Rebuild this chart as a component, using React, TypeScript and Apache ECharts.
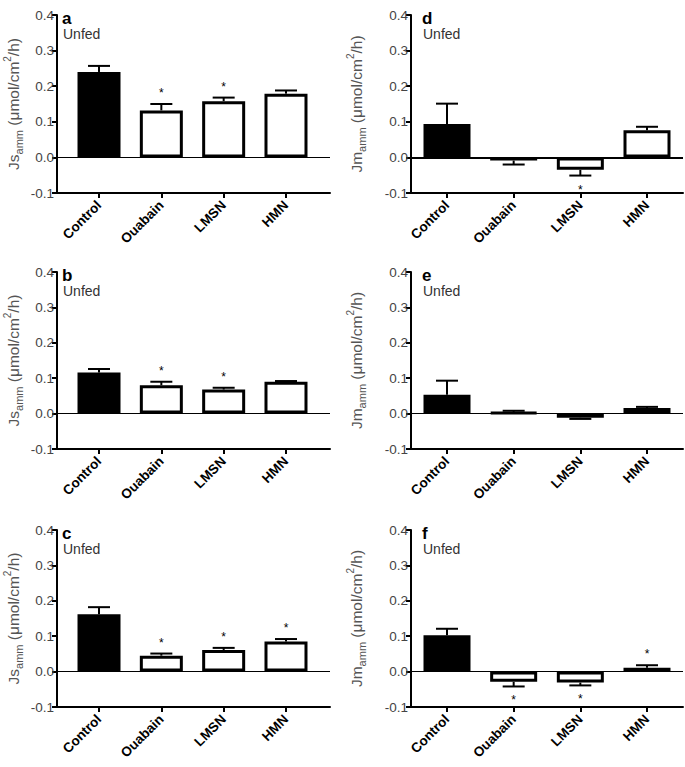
import React, { useEffect, useRef } from "react";
import * as echarts from "echarts";

const categories = ["Control", "Ouabain", "LMSN", "HMN"];
const yTicks = [-0.1, 0.0, 0.1, 0.2, 0.3, 0.4];

// panel a (Js)
const aMean = [0.240, 0.132, 0.158, 0.179];
const aErr = [0.017, 0.018, 0.010, 0.009];
const aSig = [0, 1, 1, 0];
// panel b (Js)
const bMean = [0.116, 0.080, 0.068, 0.090];
const bErr = [0.010, 0.010, 0.005, 0.002];
const bSig = [0, 1, 1, 0];
// panel c (Js)
const cMean = [0.162, 0.045, 0.061, 0.085];
const cErr = [0.020, 0.006, 0.006, 0.007];
const cSig = [0, 1, 1, 1];
// panel d (Jm)
const dMean = [0.094, -0.009, -0.035, 0.076];
const dErr = [0.057, 0.011, 0.016, 0.010];
const dSig = [0, 0, 1, 0];
// panel e (Jm)
const eMean = [0.053, 0.003, -0.012, 0.016];
const eErr = [0.040, 0.005, 0.003, 0.003];
const eSig = [0, 0, 0, 0];
// panel f (Jm)
const fMean = [0.103, -0.029, -0.031, 0.011];
const fErr = [0.018, 0.013, 0.008, 0.007];
const fSig = [0, 1, 1, 1];

const panelLetters = ["a", "b", "c", "d", "e", "f"];
const panelSubtitle = "Unfed";

const FONT = "'Liberation Sans', Arial, Helvetica, sans-serif";

export default function App() {
  const ref = useRef<HTMLDivElement>(null);

  useEffect(() => {
    document.body.style.margin = "0";
    if (!ref.current) return;
    const chart = echarts.init(ref.current, undefined, { renderer: "svg" });

    const panels = [
      { mean: aMean, err: aErr, sig: aSig, col: 0, row: 0, flux: "Js" },
      { mean: bMean, err: bErr, sig: bSig, col: 0, row: 1, flux: "Js" },
      { mean: cMean, err: cErr, sig: cSig, col: 0, row: 2, flux: "Js" },
      { mean: dMean, err: dErr, sig: dSig, col: 1, row: 0, flux: "Jm" },
      { mean: eMean, err: eErr, sig: eSig, col: 1, row: 1, flux: "Jm" },
      { mean: fMean, err: fErr, sig: fSig, col: 1, row: 2, flux: "Jm" },
    ];

    const colLeft = [57, 411];
    const colWidth = [273, 272];
    const colXMin = [-0.674, -0.54];
    const colXMax = [3.706, 3.54];
    const colBarW = [43, 47];
    const colCap = [11, 11];
    const colNameGap = [33, 44];
    const colLetterDx = [5, 11];
    const rowTop = [15, 272, 530];
    const rowHeight = [178, 177, 177];

    const grid: any[] = [];
    const xAxis: any[] = [];
    const yAxis: any[] = [];
    const series: any[] = [];
    const graphic: any[] = [];

    panels.forEach((p, i) => {
      const left = colLeft[p.col];
      const top = rowTop[p.row];
      grid.push({
        left,
        top,
        width: colWidth[p.col],
        height: rowHeight[p.row],
        containLabel: false,
      });
      const tickIdx = categories.map((_, k) => k);
      xAxis.push({
        type: "value",
        gridIndex: i,
        min: colXMin[p.col],
        max: colXMax[p.col],
        splitLine: { show: false },
        axisLine: { show: true, onZero: false, lineStyle: { color: "#000", width: 2 } },
        axisTick: {
          show: true,
          customValues: tickIdx,
          length: 5,
          lineStyle: { color: "#000", width: 2 },
        },
        axisLabel: {
          show: true,
          customValues: tickIdx,
          formatter: (v: number) => categories[Math.round(v)] ?? "",
          rotate: 45,
          margin: 10,
          color: "#000",
          fontWeight: "bold",
          fontSize: 13.5,
          fontFamily: FONT,
        },
      });
      yAxis.push({
        type: "value",
        gridIndex: i,
        min: yTicks[0],
        max: yTicks[yTicks.length - 1],
        interval: 0.1,
        splitLine: { show: false },
        axisLine: { show: true, onZero: false, lineStyle: { color: "#000", width: 2 } },
        axisTick: { show: true, length: 5, lineStyle: { color: "#000", width: 2 } },
        axisLabel: {
          color: "#444",
          fontSize: 13.5,
          fontFamily: FONT,
          margin: 3,
          formatter: (v: number) => v.toFixed(1),
        },
        name: `{m|${p.flux}}{sub|amm}{m| (μmol/cm}{sup|2}{m|/h)}`,
        nameLocation: "middle",
        nameGap: colNameGap[p.col],
        nameRotate: 90,
        nameTextStyle: {
          fontFamily: FONT,
          color: "#555",
          rich: {
            m: { fontSize: 15.5, lineHeight: 22, fontFamily: FONT, color: "#555", verticalAlign: "middle" },
            sub: { fontSize: 11, lineHeight: 11, fontFamily: FONT, color: "#555", verticalAlign: "bottom" },
            sup: { fontSize: 10, lineHeight: 10, fontFamily: FONT, color: "#555", verticalAlign: "top" },
          },
        },
      });
      series.push({
        type: "bar",
        xAxisIndex: i,
        yAxisIndex: i,
        barWidth: colBarW[p.col],
        z: 2,
        data: p.mean.map((v, k) => ({
          value: [k, v],
          itemStyle: {
            color: k === 0 ? "#000" : "#fff",
            borderColor: "#000",
            borderWidth: 3,
          },
        })),
        markLine: {
          silent: true,
          symbol: "none",
          label: { show: false },
          lineStyle: { color: "#000", width: p.col === 1 && p.row === 0 ? 2 : 1.2, type: "solid" },
          data: [{ yAxis: 0 }],
        },
      });
      const cap = colCap[p.col];
      series.push({
        type: "custom",
        xAxisIndex: i,
        yAxisIndex: i,
        z: 5,
        data: p.mean.map((v, k) => [k, v, p.err[k], p.sig[k]]),
        renderItem: (params: any, api: any) => {
          const x = api.value(0);
          const m = api.value(1);
          const e = api.value(2);
          const s = api.value(3);
          const end = m >= 0 ? m + e : m - e;
          const p0 = api.coord([x, m]);
          const p1 = api.coord([x, end]);
          const children: any[] = [
            {
              type: "line",
              shape: { x1: p0[0], y1: p0[1], x2: p1[0], y2: p1[1] },
              style: { stroke: "#000", lineWidth: 2 },
            },
            {
              type: "line",
              shape: { x1: p1[0] - cap, y1: p1[1], x2: p1[0] + cap, y2: p1[1] },
              style: { stroke: "#000", lineWidth: 2 },
            },
          ];
          if (s) {
            children.push({
              type: "text",
              x: p1[0],
              y: m >= 0 ? p1[1] - 11 : p1[1] + 14,
              style: {
                text: "*",
                fontSize: 12,
                fontFamily: FONT,
                align: "center",
                verticalAlign: "middle",
                fill: "#000",
              },
            });
          }
          return { type: "group", children };
        },
      });
      graphic.push({
        type: "text",
        left: left + colLetterDx[p.col],
        top: top - 5,
        style: {
          text: panelLetters[i],
          fontSize: 17,
          fontWeight: "bold",
          fontFamily: FONT,
          fill: "#000",
        },
      });
      graphic.push({
        type: "text",
        left: left + colLetterDx[p.col] + 1,
        top: top + 12,
        style: {
          text: panelSubtitle,
          fontSize: 14,
          fontFamily: FONT,
          fill: "#333",
        },
      });
    });

    chart.setOption({
      animation: false,
      backgroundColor: "#fff",
      textStyle: { fontFamily: FONT },
      grid,
      xAxis,
      yAxis,
      series,
      graphic,
    });

    return () => {
      chart.dispose();
    };
  }, []);

  return <div ref={ref} style={{ width: 685, height: 767 }} />;
}
